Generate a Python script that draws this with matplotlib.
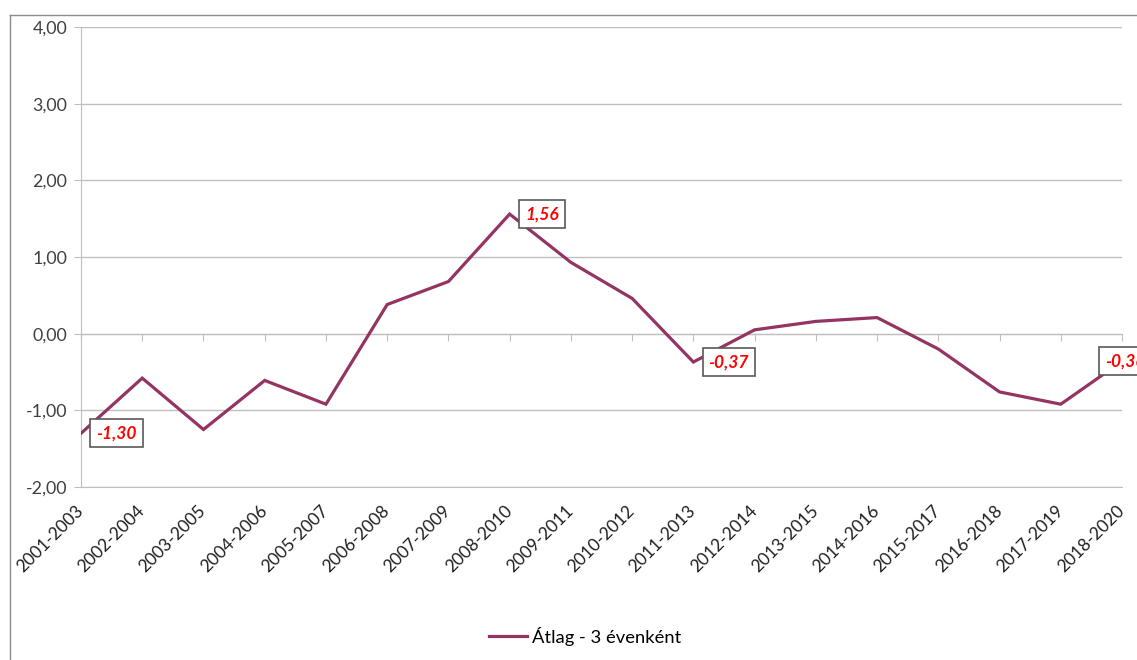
import matplotlib
matplotlib.use("Agg")
import matplotlib.pyplot as plt
from matplotlib.lines import Line2D

plt.rcParams['font.family'] = ['Lato', 'DejaVu Sans']

categories = ["2001-2003", "2002-2004", "2003-2005", "2004-2006", "2005-2007",
              "2006-2008", "2007-2009", "2008-2010", "2009-2011", "2010-2012",
              "2011-2013", "2012-2014", "2013-2015", "2014-2016", "2015-2017",
              "2016-2018", "2017-2019", "2018-2020"]
values = [-1.30, -0.58, -1.25, -0.61, -0.92, 0.38, 0.68, 1.56, 0.93, 0.46,
          -0.37, 0.05, 0.16, 0.21, -0.20, -0.76, -0.92, -0.36]
series_name = "Átlag - 3 évenként"
labeled_idx = [0, 7, 10, 17]
y_ticks = [-2, -1, 0, 1, 2, 3, 4]

line_color = "#943462"
grid_color = "#bfbfbf"
text_color = "#404040"

fig = plt.figure(figsize=(11.37, 6.6), dpi=100)
ax = fig.add_axes([81/1137, 1-487/660, (1122-81)/1137, (487-27)/660])

x = list(range(len(categories)))
ax.plot(x, values, color=line_color, lw=2.3, solid_joinstyle='miter',
        label=series_name, zorder=3)

ax.set_xlim(0, len(categories)-1)
ax.set_ylim(-2, 4)
ax.set_yticks(y_ticks)
ax.set_yticklabels([f"{v:.2f}".replace(".", ",") for v in y_ticks],
                   fontsize=12.8, color=text_color)
ax.yaxis.grid(True, color=grid_color, lw=1)
ax.set_axisbelow(True)
ax.tick_params(axis='y', length=5, color=grid_color, pad=5)

ax.set_xticks(x)
ax.set_xticklabels(categories, rotation=45, ha='right', va='center',
                   rotation_mode='anchor', fontsize=12.5, color='#202020')
ax.tick_params(axis='x', length=0, pad=15)

for s in ['top', 'right']:
    ax.spines[s].set_visible(False)
ax.spines['left'].set_color(grid_color)
ax.spines['bottom'].set_color(grid_color)

# category axis crossing at 0 with tick marks
sec = ax.secondary_xaxis(location=(0 - (-2)) / 6)
sec.set_xticks(x)
sec.set_xticklabels([])
sec.tick_params(length=5, color=grid_color, direction='out')
sec.spines['bottom'].set_color(grid_color)

# data labels
offsets = {0: 11, 7: 11, 10: 11, 17: -12}
for i in labeled_idx:
    ax.annotate(f"{values[i]:.2f}".replace(".", ","), xy=(x[i], values[i]),
                xytext=(offsets[i], 0), textcoords='offset points',
                ha='left', va='center', fontsize=12.5, fontweight='bold',
                fontstyle='italic', color='#ff0000', zorder=5,
                bbox=dict(boxstyle='square,pad=0.35', fc='white',
                          ec='#595959', lw=1.2))

# outer chart border
fig.add_artist(Line2D([10/1137, 10/1137], [0, 1-15/660], color='#8c8c8c', lw=1))
fig.add_artist(Line2D([10/1137, 1], [1-15/660, 1-15/660], color='#8c8c8c', lw=1))

fig.legend(handles=[Line2D([0], [0], color=line_color, lw=2.3)],
           labels=[series_name], loc='center',
           bbox_to_anchor=(585/1137, 1-636/660), frameon=False,
           fontsize=13.2, handlelength=2.1, handletextpad=0.25)

fig.savefig("out.png", dpi=100)
